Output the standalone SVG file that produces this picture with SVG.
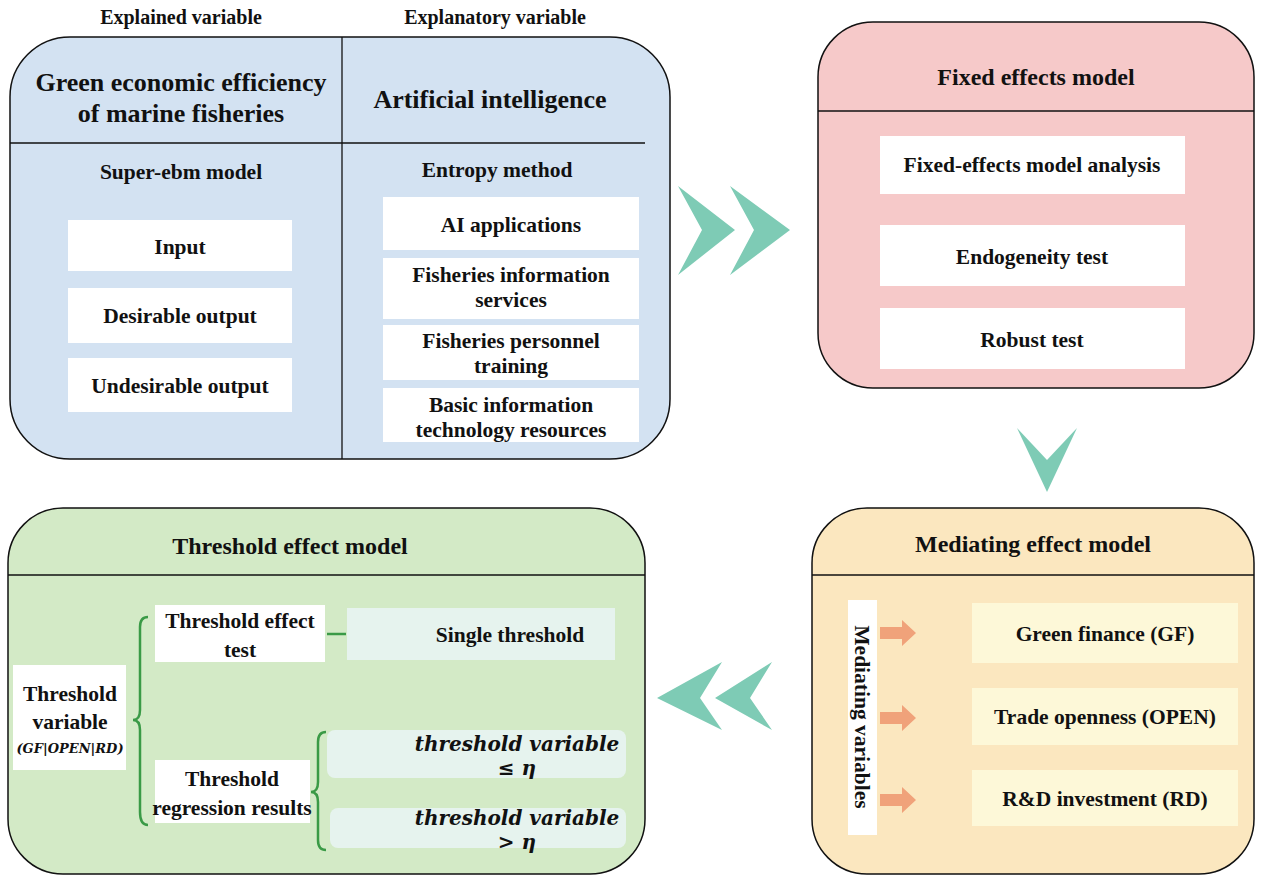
<svg xmlns="http://www.w3.org/2000/svg" width="1262" height="880" viewBox="0 0 1262 880">
<style>
text{font-family:"Liberation Serif",serif;font-weight:bold;fill:#111;text-anchor:middle}
.t{font-size:24px}.s{font-size:21.5px}.h{font-size:26px}.top{font-size:20px}
.panel{stroke:#111;stroke-width:1.5}
.w{fill:#fff}
.ln{stroke:#111;stroke-width:1.3}
.chev{fill:#7ecbb5}
.br{fill:none;stroke:#3a9a46;stroke-width:2.5}
.it{font-style:italic;font-family:"DejaVu Serif",serif;font-size:20px}
.or{fill:#f0a27a}
</style>
<rect width="1262" height="880" fill="#fff"/>
<g id="labels"><text class="top" x="181" y="24">Explained variable</text><text class="top" x="495" y="24">Explanatory variable</text></g>
<g id="blue">
<rect class="panel" x="10" y="37" width="660" height="422" rx="60" fill="#d3e2f2"/>
<line class="ln" x1="342" y1="37" x2="342" y2="459"/>
<line class="ln" x1="10" y1="143" x2="645" y2="143"/>
<text class="h" x="181" y="91">Green economic efficiency</text><text class="h" x="181" y="122">of marine fisheries</text>
<text class="h" x="490" y="108">Artificial intelligence</text>
<text class="s" x="181" y="179">Super-ebm model</text>
<text class="s" x="497" y="177">Entropy method</text>
<rect class="w" x="68" y="220" width="224" height="51"/><text class="s" x="180" y="254">Input</text>
<rect class="w" x="68" y="288" width="224" height="55"/><text class="s" x="180" y="323">Desirable output</text>
<rect class="w" x="68" y="358" width="224" height="54"/><text class="s" x="180" y="393">Undesirable output</text>
<rect class="w" x="383" y="197" width="256" height="53"/><text class="s" x="511" y="232">AI applications</text>
<rect class="w" x="383" y="258" width="256" height="61"/><text class="s" x="511" y="282">Fisheries information</text><text class="s" x="511" y="307">services</text>
<rect class="w" x="383" y="325" width="256" height="55"/><text class="s" x="511" y="348">Fisheries personnel</text><text class="s" x="511" y="373">training</text>
<rect class="w" x="383" y="388" width="256" height="54"/><text class="s" x="511" y="412">Basic information</text><text class="s" x="511" y="437">technology resources</text>
</g>
<g id="pink">
<rect class="panel" x="818" y="22" width="436" height="366" rx="55" fill="#f6c9c9"/>
<line class="ln" x1="818" y1="111" x2="1254" y2="111"/>
<text class="t" x="1036" y="85">Fixed effects model</text>
<rect class="w" x="880" y="136" width="305" height="58"/><text class="s" x="1032" y="172">Fixed-effects model analysis</text>
<rect class="w" x="880" y="225" width="305" height="61"/><text class="s" x="1032" y="264">Endogeneity test</text>
<rect class="w" x="880" y="308" width="305" height="61"/><text class="s" x="1032" y="347">Robust test</text>
</g>
<g id="yellow">
<rect class="panel" x="812" y="508" width="442" height="366" rx="55" fill="#fbe7bf"/>
<line class="ln" x1="812" y1="575" x2="1254" y2="575"/>
<text class="t" x="1033" y="552">Mediating effect model</text>
<rect class="w" x="848" y="600" width="29" height="235"/>
<text class="s" transform="translate(855,717) rotate(90)">Mediating variables</text>
<rect x="972" y="603" width="266" height="60" fill="#fdf8d8"/><text class="s" x="1105" y="641">Green finance (GF)</text>
<rect x="972" y="688" width="266" height="57" fill="#fdf8d8"/><text class="s" x="1105" y="724">Trade openness (OPEN)</text>
<rect x="972" y="770" width="266" height="56" fill="#fdf8d8"/><text class="s" x="1105" y="806">R&amp;D investment (RD)</text>
</g>
<g id="green">
<rect class="panel" x="8" y="508" width="637" height="366" rx="55" fill="#d3eac6"/>
<line class="ln" x1="8" y1="575" x2="645" y2="575"/>
<text class="t" x="290" y="554">Threshold  effect model</text>
<rect class="w" x="13" y="665" width="113" height="105"/>
<text class="s" x="70" y="701">Threshold</text><text class="s" x="70" y="729">variable</text>
<text class="it" x="70" y="753" style="font-size:13px">(GF|OPEN|RD)</text>
<rect class="w" x="155" y="605" width="170" height="57"/><text class="s" x="240" y="628">Threshold effect</text><text class="s" x="240" y="657">test</text>
<rect x="347" y="608" width="268" height="52" fill="#e6f3ee"/><text class="s" x="510" y="642">Single threshold</text>
<rect class="w" x="155" y="760" width="155" height="63"/><text class="s" x="232" y="786">Threshold</text><text class="s" x="232" y="815">regression results</text>
<rect x="327" y="730" width="299" height="48" rx="8" fill="#e6f3ee"/>
<text class="it" x="517" y="751">threshold variable</text><text class="it" x="517" y="775">≤ η</text>
<rect x="330" y="808" width="296" height="40" rx="8" fill="#e6f3ee"/>
<text class="it" x="517" y="825">threshold variable</text><text class="it" x="517" y="849">&gt; η</text>
</g>
<g id="connectors">
<path class="br" d="M148,617 Q140,617 140,627 L140,710 Q140,720 133,720 Q140,720 140,730 L140,812 Q140,825 148,825"/>
<path class="br" d="M326,732 Q318,732 318,742 L318,782 Q318,792 311,792 Q318,792 318,802 L318,840 Q318,850 326,850"/>
<line x1="327" y1="634" x2="346" y2="634" stroke="#3a9a46" stroke-width="2.5"/>
<polygon class="or" points="880,627 902,627 902,620 916,633 902,646 902,639 880,639"/>
<polygon class="or" points="880,712 902,712 902,705 916,718 902,731 902,724 880,724"/>
<polygon class="or" points="880,794 902,794 902,787 916,800 902,813 902,806 880,806"/>
<polygon class="chev" points="678,186 735,230 678,275 702,230"/>
<polygon class="chev" points="730,186 790,230 730,275 754,230"/>
<polygon class="chev" points="1017,428 1047,460 1077,428 1047,492"/>
<polygon class="chev" points="722,662 657,698 722,730 700,698"/>
<polygon class="chev" points="772,662 715,698 772,730 750,698"/>
</g>
</svg>
